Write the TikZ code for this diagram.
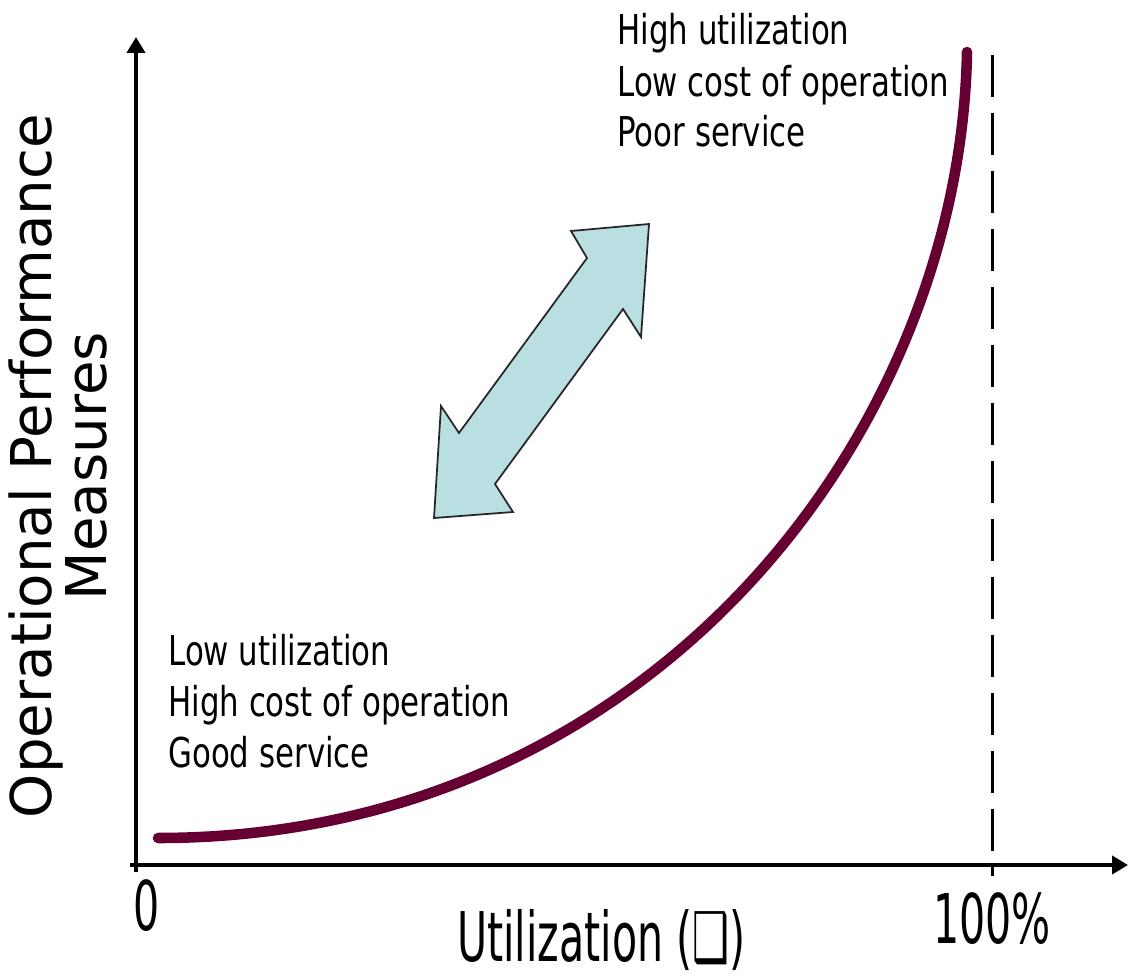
\documentclass[tikz,border=0pt]{standalone}
\usepackage{fontspec}
\setmainfont{DejaVu Sans}
\newfontfamily\notefont[FakeStretch=0.75]{DejaVu Sans}
\newfontfamily\tickfont[FakeStretch=0.6]{DejaVu Sans}
\usetikzlibrary{arrows.meta}
\definecolor{curvecolor}{RGB}{102,0,51}
\definecolor{arrowfill}{RGB}{185,223,226}
\tikzset{
  axis/.style = {line width = 2.8pt, -{Triangle[length = 0.32cm, width = 0.36cm]}},
  note/.style = {anchor = base west, inner sep = 0pt, font = \notefont\fontsize{23.4pt}{28pt}\selectfont},
  tick/.style = {inner sep = 0pt, font = \tickfont\fontsize{39pt}{44pt}\selectfont}
}
\begin{document}
\begin{tikzpicture}[x = 0.02cm, y = -0.02cm]
\useasboundingbox (0,0) rectangle (1129,980);
\coordinate (origin) at (136,865);
\coordinate (ybottom) at (136,872);
\coordinate (ytop) at (136,37);
\coordinate (xleft) at (130,865);
\coordinate (xend) at (1128,865);
\coordinate (fulltop) at (992,55);
\coordinate (fullbottom) at (992,876);
\coordinate (curvestart) at (158,838);
\coordinate (curveend) at (967,52);
% axes and the 100% line
\draw [axis] (ybottom) -- (ytop);
\draw [axis] (xleft) -- (xend);
\draw [line width = 1.7pt, dash pattern = on 0.84cm off 0.32cm] (fulltop) -- (fullbottom);
% performance curve
\draw [color = curvecolor, line width = 6pt, line cap = round] (curvestart) .. controls (650,838) and (960,435) .. (curveend);
% trade-off arrow
\draw [fill = arrowfill, draw = black!85, line width = 1pt] (649,224) -- (571,231) -- (587,258) -- (459,433) -- (441,406) -- (434,518) -- (513,512) -- (495,484) -- (623,309) -- (641,337) -- cycle;
% labels
\foreach \txt [count = \i] in {Low utilization, High cost of operation, Good service}
  \node [note] (low\i) at (168, 665+51*\i-51) {\txt};
\foreach \txt [count = \i] in {High utilization, Low cost of operation, Poor service}
  \node [note] (high\i) at (617, 45+51*\i-51) {\txt};
\node [tick, anchor = base] (zero) at (147,930) {0};
\node [tick, anchor = base west] (full) at (933,943) {100\%};
\node [tick, anchor = base west] (xlabel) at (457,961) {Utilization (❑)};
\node [rotate = 90, align = center, inner sep = 0pt, font = \fontsize{32pt}{27pt}\selectfont] (ylabel) at (58,466) {Operational Performance\\Measures};
\end{tikzpicture}
\end{document}
